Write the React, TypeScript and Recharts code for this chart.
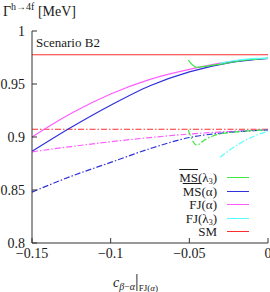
import React from "react";
import { LineChart, Line, XAxis, YAxis } from "recharts";

// x positions (c_{beta-alpha})
const xFull = [-0.15, -0.125, -0.1, -0.075, -0.05, -0.025, 0];
// solid curves
const fjAlphaSolid = [0.9, 0.9224, 0.9406, 0.9544, 0.9638, 0.9708, 0.9742];
const msAlphaSolid = [0.8865, 0.9092, 0.930, 0.9484, 0.9615, 0.97, 0.9742];
// dash-dot curves
const fjAlphaDD = [0.886, 0.891, 0.8955, 0.8995, 0.9028, 0.9052, 0.9068];
const msAlphaDD = [0.848, 0.863, 0.876, 0.889, 0.8995, 0.9043, 0.9066];

const xMsL3 = [-0.0507, -0.0453, -0.04, -0.03, -0.02, -0.01, 0];
const msL3Solid = [0.9726, 0.9658, 0.9666, 0.9688, 0.9712, 0.9731, 0.9742];
const xMsL3DD = [-0.0507, -0.0453, -0.04, -0.035, -0.03, -0.02, -0.01, 0];
const msL3DD = [0.9066, 0.8925, 0.8975, 0.901, 0.903, 0.9048, 0.906, 0.9066];

const xFjL3 = [-0.0305, -0.02, -0.01, 0];
const fjL3Solid = [0.9697, 0.9724, 0.974, 0.9745];
const xFjL3DD = [-0.0305, -0.025, -0.0185, -0.01, 0];
const fjL3DD = [0.8809, 0.887, 0.8934, 0.9, 0.9055];

const xSM = [-0.15, 0];
const smSolid = [0.9776, 0.9776];
const smDD = [0.9073, 0.9073];

const xTicks = [-0.15, -0.1, -0.05, 0];
const xTickLabels = ["\u22120.15", "\u22120.1", "\u22120.05", "0"];
const yTicks = [0.8, 0.85, 0.9, 0.95, 1];
const yTickLabels = ["0.8", "0.85", "0.9", "0.95", "1"];

const C_GREEN = "#3ee83e";
const C_BLUE = "#3030dc";
const C_MAGENTA = "#ff5cff";
const C_CYAN = "#55ffff";
const C_RED = "#ff2e2e";
const DASHDOT = "6 2 1.5 2";
const FONT = "'Liberation Serif', serif";

const zip = (xs: number[], ys: number[]) => xs.map((x, i) => ({ x, y: ys[i] }));

const series = [
  { key: "smS", data: zip(xSM, smSolid), color: C_RED, dash: undefined },
  { key: "smD", data: zip(xSM, smDD), color: C_RED, dash: DASHDOT },
  { key: "fjaS", data: zip(xFull, fjAlphaSolid), color: C_MAGENTA, dash: undefined },
  { key: "msaS", data: zip(xFull, msAlphaSolid), color: C_BLUE, dash: undefined },
  { key: "fjaD", data: zip(xFull, fjAlphaDD), color: C_MAGENTA, dash: DASHDOT },
  { key: "msaD", data: zip(xFull, msAlphaDD), color: C_BLUE, dash: DASHDOT },
  { key: "msl3S", data: zip(xMsL3, msL3Solid), color: C_GREEN, dash: undefined },
  { key: "msl3D", data: zip(xMsL3DD, msL3DD), color: C_GREEN, dash: DASHDOT },
  { key: "fjl3S", data: zip(xFjL3, fjL3Solid), color: C_CYAN, dash: undefined },
  { key: "fjl3D", data: zip(xFjL3DD, fjL3DD), color: C_CYAN, dash: DASHDOT },
];

const SUB: React.CSSProperties = { fontSize: 8, lineHeight: 0, verticalAlign: "-2px" };
const OVER: React.CSSProperties = { textDecoration: "overline" };

const legendItems: { label: React.ReactNode; color: string }[] = [
  { label: (<><span style={OVER}>MS</span>(λ<span style={SUB}>3</span>)</>), color: C_GREEN },
  { label: (<><span style={OVER}>MS</span>(α)</>), color: C_BLUE },
  { label: <>FJ(α)</>, color: C_MAGENTA },
  { label: (<>FJ(λ<span style={SUB}>3</span>)</>), color: C_CYAN },
  { label: <>SM</>, color: C_RED },
];

const AXIS = "#333";
const TICKFONT = { fill: "#1a1a1a", fontSize: 14, fontFamily: FONT };

export default function App() {
  return (
    <div style={{ position: "absolute", left: 0, top: 0, width: 270, height: 292, fontFamily: FONT, color: "#1a1a1a", background: "#fff", overflow: "hidden" }}>
      <LineChart width={270} height={292} margin={{ top: 31, right: 2, left: 0, bottom: 0 }}>
        <XAxis
          xAxisId="b"
          type="number"
          dataKey="x"
          domain={[-0.15, 0]}
          ticks={xTicks}
          interval={0}
          tickFormatter={(v: number) => xTickLabels[xTicks.findIndex((t) => Math.abs(t - v) < 1e-9)] ?? String(v)}
          height={49}
          tickSize={-5}
          tickMargin={10}
          stroke={AXIS}
          tick={TICKFONT}
          allowDuplicatedCategory={false}
        />
        <XAxis
          xAxisId="t"
          orientation="top"
          type="number"
          dataKey="x"
          domain={[-0.15, 0]}
          ticks={xTicks}
          height={0}
          tickSize={-5}
          tick={false}
          stroke={AXIS}
        />
        <YAxis
          yAxisId="l"
          type="number"
          domain={[0.8, 1]}
          ticks={yTicks}
          interval={0}
          tickFormatter={(v: number) => yTickLabels[yTicks.findIndex((t) => Math.abs(t - v) < 1e-9)] ?? String(v)}
          width={32}
          tickSize={-5}
          tickMargin={12}
          stroke={AXIS}
          tick={TICKFONT}
          allowDataOverflow
        />
        <YAxis
          yAxisId="r"
          orientation="right"
          type="number"
          domain={[0.8, 1]}
          ticks={yTicks}
          width={0}
          tickSize={-5}
          tick={false}
          stroke={AXIS}
        />
        {series.map((s) => (
          <Line
            key={s.key}
            xAxisId="b"
            yAxisId="l"
            data={s.data}
            dataKey="y"
            type="monotone"
            stroke={s.color}
            strokeWidth={1.2}
            strokeDasharray={s.dash}
            dot={false}
            activeDot={false}
            isAnimationActive={false}
          />
        ))}
      </LineChart>

      {/* y-axis title */}
      <div style={{ position: "absolute", left: 3, top: 3, fontSize: 14, whiteSpace: "nowrap", lineHeight: "18px" }}>
        Γ<span style={{ fontSize: 10, lineHeight: 0, verticalAlign: "6px" }}>h→4f</span> [MeV]
      </div>

      {/* scenario label */}
      <div style={{ position: "absolute", left: 36, top: 35, fontSize: 13, whiteSpace: "nowrap", lineHeight: "15px" }}>
        Scenario B2
      </div>

      {/* legend */}
      <div style={{ position: "absolute", left: 110, top: 171, width: 140 }}>
        {legendItems.map((it, i) => (
          <div key={i} style={{ position: "absolute", top: i * 13.6, left: 0, width: 140, height: 13, display: "flex", alignItems: "center" }}>
            <div style={{ width: 107, textAlign: "right", fontSize: 13, lineHeight: "13px", whiteSpace: "nowrap" }}>{it.label}</div>
            <div style={{ marginLeft: 10, width: 22, height: 0, borderTop: `1.5px solid ${it.color}` }} />
          </div>
        ))}
      </div>

      {/* x-axis title */}
      <div style={{ position: "absolute", left: 113, top: 272, fontSize: 14, whiteSpace: "nowrap", lineHeight: "18px" }}>
        <i>c</i>
        <span style={{ fontSize: 10, lineHeight: 0, verticalAlign: "-3px" }}>
          <i>β</i>−<i>α</i>
        </span>
        <span style={{ fontSize: 18 }}>|</span>
        <span style={{ fontSize: 9, lineHeight: 0, verticalAlign: "-4px" }}>FJ(<i>α</i>)</span>
      </div>
    </div>
  );
}
